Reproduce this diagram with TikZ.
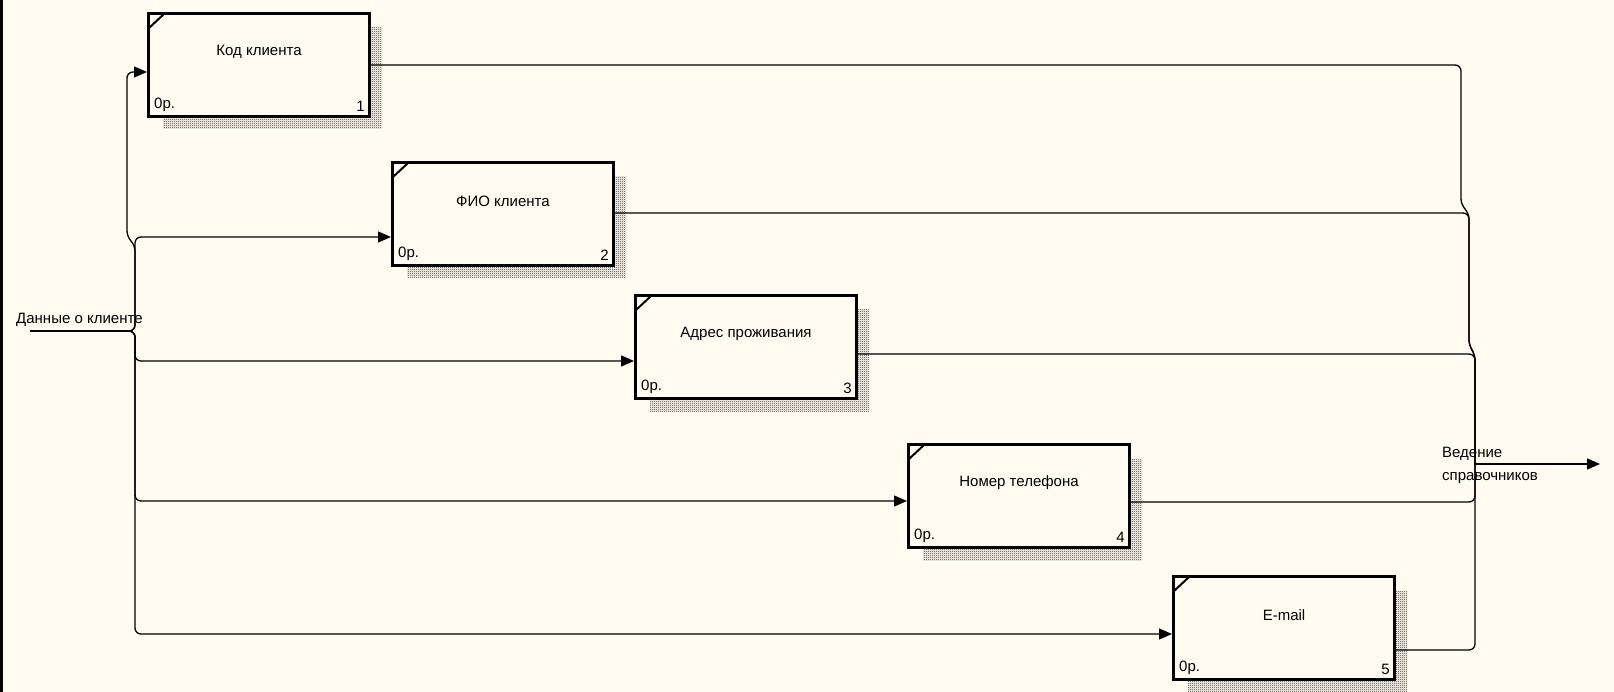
\documentclass[tikz,border=0pt]{standalone}
\usepackage{fontspec}
\setmainfont{Liberation Sans}
\usetikzlibrary{arrows.meta}
\usetikzlibrary{patterns}
\definecolor{paper}{HTML}{FFFBF0}
\pgfdeclarepatternformonly{checker}{\pgfqpoint{0pt}{0pt}}{\pgfqpoint{2pt}{2pt}}{\pgfqpoint{2pt}{2pt}}{%
	\pgfpathrectangle{\pgfqpoint{0pt}{0pt}}{\pgfqpoint{1pt}{1pt}}%
	\pgfpathrectangle{\pgfqpoint{1pt}{1pt}}{\pgfqpoint{1pt}{1pt}}%
	\pgfusepath{fill}}

\begin{document}
\begin{tikzpicture}
		[x=1pt, y=-1pt,
		font=\fontsize{15}{17}\selectfont
		]
		
		% Styles: boxes, shadows and flows
		\tikzstyle{proc box}=[draw,line width=3pt,fill=paper,minimum width=221pt,minimum height=103pt,anchor=north west,inner sep=0];
		\tikzstyle{shadow}=[pattern=checker,pattern color=black!80];
		\tikzstyle{flow}=[line width=1.3pt,rounded corners=6pt];
		\tikzstyle{arrow flow}=[flow,-{Triangle[length=13pt,width=11pt]}];
		
		% Paper and frame
		\fill[paper] (0,0) rectangle (1614,692);
		\useasboundingbox (0,0) rectangle (1614,692);
		\draw[line width=3pt] (1.5,0) -- (1.5,692);
		
		% The boxes
		\foreach \n/\x/\y/\t in {1/147/12/Код клиента, 2/391/161/ФИО клиента, 3/634/294/Адрес проживания, 4/907/443/Номер телефона, 5/1172/575/E-mail}{
			\fill[shadow] (\x+16,\y+16) rectangle (\x+235,\y+117);
			\node[proc box] (b\n) at (\x,\y) {};
			\draw[line width=2pt] ([shift={(2pt,-16pt)}]b\n.north west) -- ([shift={(17pt,-2pt)}]b\n.north west);
			\node at ([yshift=-40pt]b\n.north) {\t};
			\node[anchor=south west,inner sep=0] at ([shift={(7pt,6pt)}]b\n.south west) {0р.};
			\node[anchor=south east,inner sep=0] at ([shift={(-6pt,6pt)}]b\n.south east) {\n};
		}
		
		% Input
		\coordinate (src) at (30,331);
		\node[anchor=west,inner sep=0] (in label) at (16,320) {Данные о клиенте};
		\draw[arrow flow] (src) -- (135,331) -- (135,245) -- (127,237) -- (127,72) -- (b1.west |- 0,72);
		\draw[arrow flow] (src) -- (135,331) -- (135,237) -- (b2.west |- 0,237);
		\draw[arrow flow] (src) -- (135,331) -- (135,361) -- (b3.west |- 0,361);
		\draw[arrow flow] (src) -- (135,331) -- (135,501) -- (b4.west |- 0,501);
		\draw[arrow flow] (src) -- (135,331) -- (135,634) -- (b5.west |- 0,634);
		
		% Output
		\coordinate (join) at (1475,464);
		\coordinate (exit) at (1600,464);
		\draw[flow] (b1.east |- 0,65) -- (1461,65) -- (1461,205) -- (1469,213) -- (1469,346) -- (1475,354) -- (join);
		\draw[flow] (b2.east |- 0,213) -- (1469,213) -- (1469,346) -- (1475,354) -- (join);
		\draw[flow] (b3.east |- 0,354) -- (1475,354) -- (join);
		\draw[flow] (b4.east |- 0,502) -- (1475,502) -- (join);
		\draw[flow] (b5.east |- 0,650) -- (1475,650) -- (join);
		\draw[arrow flow] (join) -- (exit);
		\node[anchor=west,align=left,inner sep=0,font=\fontsize{15}{23}\selectfont] (out label) at (1442,465) {Ведение\\справочников};
		\end{tikzpicture}
\end{document}
